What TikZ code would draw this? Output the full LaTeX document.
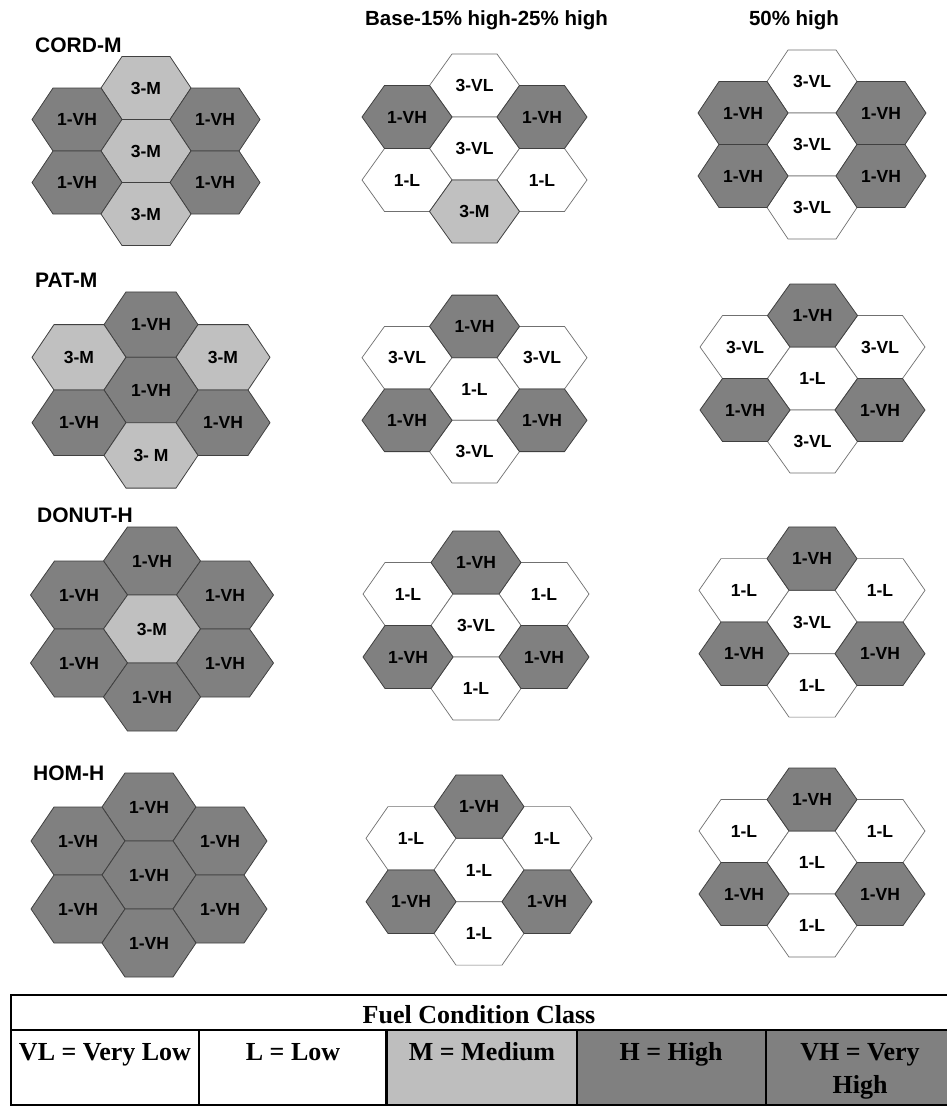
\documentclass[tikz,border=0pt]{standalone}
\usepackage{fontspec}
\setmainfont{Liberation Serif}
\setsansfont{Liberation Sans}
\definecolor{vhgray}{HTML}{808080}
\definecolor{mgray}{HTML}{C0C0C0}
\definecolor{hexline}{HTML}{404040}
\definecolor{wline}{HTML}{707070}
\definecolor{tabvh}{HTML}{808080}
\definecolor{tabm}{HTML}{BEBEBE}
\newcommand\setclu[5]{\def\CLx{#1}\def\CLy{#2}\def\CLa{#3}\def\CLd{#4}\def\CLb{#5}}
\newcommand\hx[5]{%
 \pgfmathsetmacro\hxpx{\CLx+(#2)*(2*\CLa-\CLd)}%
 \pgfmathsetmacro\hxpy{\CLy+(#3)*\CLb}%
 \draw[#4] ({\hxpx-\CLa},\hxpy) -- ({\hxpx-\CLa+\CLd},{\hxpy-\CLb}) -- ({\hxpx+\CLa-\CLd},{\hxpy-\CLb}) -- ({\hxpx+\CLa},\hxpy) -- ({\hxpx+\CLa-\CLd},{\hxpy+\CLb}) -- ({\hxpx-\CLa+\CLd},{\hxpy+\CLb}) -- cycle;
 \node[hexlab] (#1) at (\hxpx,\hxpy) {#5};}
\tikzset{
 hexvh/.style={fill=vhgray, draw=hexline, line width=0.8pt},
 hexm/.style={fill=mgray, draw=hexline, line width=0.8pt},
 hexw/.style={fill=white, draw=wline, line width=0.7pt},
 hexlab/.style={font=\sffamily\bfseries\fontsize{17.5}{20}\selectfont, inner sep=0pt},
 rowtitle/.style={font=\sffamily\bfseries\fontsize{21}{24}\selectfont, inner sep=0pt, anchor=base west},
 coltitle/.style={font=\sffamily\bfseries\fontsize{20.5}{24}\selectfont, inner sep=0pt, anchor=base},
 tabtext/.style={font=\rmfamily\bfseries\fontsize{26}{30}\selectfont, inner sep=0pt, anchor=base},
 tabline/.style={draw=black, line width=2.6pt}
}
\begin{document}
\begin{tikzpicture}[x=1pt,y=-1pt]
\path[use as bounding box] (0,0) rectangle (947,1106);
\clip (0,0) rectangle (947,1106);
\fill[white] (0,0) rectangle (947,1106);

% titles
\node[coltitle] (h1) at (486.5,25) {Base-15\% high-25\% high};
\node[coltitle] (h2) at (794,25) {50\% high};
\node[rowtitle] (t1) at (35,52) {CORD-M};
\node[rowtitle] (t2) at (35,287) {PAT-M};
\node[rowtitle] (t3) at (37,522) {DONUT-H};
\node[rowtitle] (t4) at (33,780) {HOM-H};

% ---- CORD-M ----
\setclu{146}{151}{45}{21}{31.5}
\hx{a1t}{0}{-2}{hexm}{3-M}
\hx{a1ul}{-1}{-1}{hexvh}{1-VH}
\hx{a1ur}{1}{-1}{hexvh}{1-VH}
\hx{a1c}{0}{0}{hexm}{3-M}
\hx{a1ll}{-1}{1}{hexvh}{1-VH}
\hx{a1lr}{1}{1}{hexvh}{1-VH}
\hx{a1b}{0}{2}{hexm}{3-M}

\setclu{474.5}{148.5}{45}{22.5}{31.5}
\hx{b1t}{0}{-2}{hexw}{3-VL}
\hx{b1c}{0}{0}{hexw}{3-VL}
\hx{b1ll}{-1}{1}{hexw}{1-L}
\hx{b1lr}{1}{1}{hexw}{1-L}
\hx{b1ul}{-1}{-1}{hexvh}{1-VH}
\hx{b1ur}{1}{-1}{hexvh}{1-VH}
\hx{b1b}{0}{2}{hexm}{3-M}

\setclu{812}{144.5}{45}{21}{31.5}
\hx{c1t}{0}{-2}{hexw}{3-VL}
\hx{c1c}{0}{0}{hexw}{3-VL}
\hx{c1b}{0}{2}{hexw}{3-VL}
\hx{c1ul}{-1}{-1}{hexvh}{1-VH}
\hx{c1ur}{1}{-1}{hexvh}{1-VH}
\hx{c1ll}{-1}{1}{hexvh}{1-VH}
\hx{c1lr}{1}{1}{hexvh}{1-VH}

% ---- PAT-M ----
\setclu{151}{390}{47}{22}{32.7}
\hx{a2t}{0}{-2}{hexvh}{1-VH}
\hx{a2ul}{-1}{-1}{hexm}{3-M}
\hx{a2ur}{1}{-1}{hexm}{3-M}
\hx{a2c}{0}{0}{hexvh}{1-VH}
\hx{a2ll}{-1}{1}{hexvh}{1-VH}
\hx{a2lr}{1}{1}{hexvh}{1-VH}
\hx{a2b}{0}{2}{hexm}{3- M}

\setclu{474.5}{389}{45}{22.5}{31.3}
\hx{b2ul}{-1}{-1}{hexw}{3-VL}
\hx{b2ur}{1}{-1}{hexw}{3-VL}
\hx{b2c}{0}{0}{hexw}{1-L}
\hx{b2b}{0}{2}{hexw}{3-VL}
\hx{b2t}{0}{-2}{hexvh}{1-VH}
\hx{b2ll}{-1}{1}{hexvh}{1-VH}
\hx{b2lr}{1}{1}{hexvh}{1-VH}

\setclu{812.5}{378.5}{45}{22.5}{31.5}
\hx{c2ul}{-1}{-1}{hexw}{3-VL}
\hx{c2ur}{1}{-1}{hexw}{3-VL}
\hx{c2c}{0}{0}{hexw}{1-L}
\hx{c2b}{0}{2}{hexw}{3-VL}
\hx{c2t}{0}{-2}{hexvh}{1-VH}
\hx{c2ll}{-1}{1}{hexvh}{1-VH}
\hx{c2lr}{1}{1}{hexvh}{1-VH}

% ---- DONUT-H ----
\setclu{152}{629}{48.5}{24}{34}
\hx{a3t}{0}{-2}{hexvh}{1-VH}
\hx{a3ul}{-1}{-1}{hexvh}{1-VH}
\hx{a3ur}{1}{-1}{hexvh}{1-VH}
\hx{a3c}{0}{0}{hexm}{3-M}
\hx{a3ll}{-1}{1}{hexvh}{1-VH}
\hx{a3lr}{1}{1}{hexvh}{1-VH}
\hx{a3b}{0}{2}{hexvh}{1-VH}

\setclu{476}{625.5}{45}{22}{31.5}
\hx{b3ul}{-1}{-1}{hexw}{1-L}
\hx{b3ur}{1}{-1}{hexw}{1-L}
\hx{b3c}{0}{0}{hexw}{3-VL}
\hx{b3b}{0}{2}{hexw}{1-L}
\hx{b3t}{0}{-2}{hexvh}{1-VH}
\hx{b3ll}{-1}{1}{hexvh}{1-VH}
\hx{b3lr}{1}{1}{hexvh}{1-VH}

\setclu{812}{622}{45}{22}{31.7}
\hx{c3ul}{-1}{-1}{hexw}{1-L}
\hx{c3ur}{1}{-1}{hexw}{1-L}
\hx{c3c}{0}{0}{hexw}{3-VL}
\hx{c3b}{0}{2}{hexw}{1-L}
\hx{c3t}{0}{-2}{hexvh}{1-VH}
\hx{c3ll}{-1}{1}{hexvh}{1-VH}
\hx{c3lr}{1}{1}{hexvh}{1-VH}

% ---- HOM-H ----
\setclu{149}{875}{47}{23}{34}
\hx{a4t}{0}{-2}{hexvh}{1-VH}
\hx{a4ul}{-1}{-1}{hexvh}{1-VH}
\hx{a4ur}{1}{-1}{hexvh}{1-VH}
\hx{a4c}{0}{0}{hexvh}{1-VH}
\hx{a4ll}{-1}{1}{hexvh}{1-VH}
\hx{a4lr}{1}{1}{hexvh}{1-VH}
\hx{a4b}{0}{2}{hexvh}{1-VH}

\setclu{479}{870}{45}{22}{31.7}
\hx{b4ul}{-1}{-1}{hexw}{1-L}
\hx{b4ur}{1}{-1}{hexw}{1-L}
\hx{b4c}{0}{0}{hexw}{1-L}
\hx{b4b}{0}{2}{hexw}{1-L}
\hx{b4t}{0}{-2}{hexvh}{1-VH}
\hx{b4ll}{-1}{1}{hexvh}{1-VH}
\hx{b4lr}{1}{1}{hexvh}{1-VH}

\setclu{812}{862.5}{45}{22}{31.5}
\hx{c4ul}{-1}{-1}{hexw}{1-L}
\hx{c4ur}{1}{-1}{hexw}{1-L}
\hx{c4c}{0}{0}{hexw}{1-L}
\hx{c4b}{0}{2}{hexw}{1-L}
\hx{c4t}{0}{-2}{hexvh}{1-VH}
\hx{c4ll}{-1}{1}{hexvh}{1-VH}
\hx{c4lr}{1}{1}{hexvh}{1-VH}

% ---- legend table ----
\fill[tabm] (386.5,1030) rectangle (577,1105);
\fill[tabvh] (577,1030) rectangle (958,1105);
\draw[tabline] (11,995) rectangle (958,1105);
\draw[tabline] (11,1030) -- (958,1030);
\draw[tabline] (199,1030) -- (199,1105);
\draw[tabline] (386.5,1030) -- (386.5,1105);
\draw[tabline] (577,1030) -- (577,1105);
\draw[tabline] (766,1030) -- (766,1105);
\node[tabtext] (fcc) at (479,1023) {Fuel Condition Class};
\node[tabtext] (vl) at (105,1060) {VL = Very Low};
\node[tabtext] (lo) at (293,1060) {L = Low};
\node[tabtext] (me) at (482,1060) {M = Medium};
\node[tabtext] (hi) at (671,1060) {H = High};
\node[tabtext] (vh1) at (860,1060) {VH = Very};
\node[tabtext] (vh2) at (860,1093) {High};
\end{tikzpicture}
\end{document}
